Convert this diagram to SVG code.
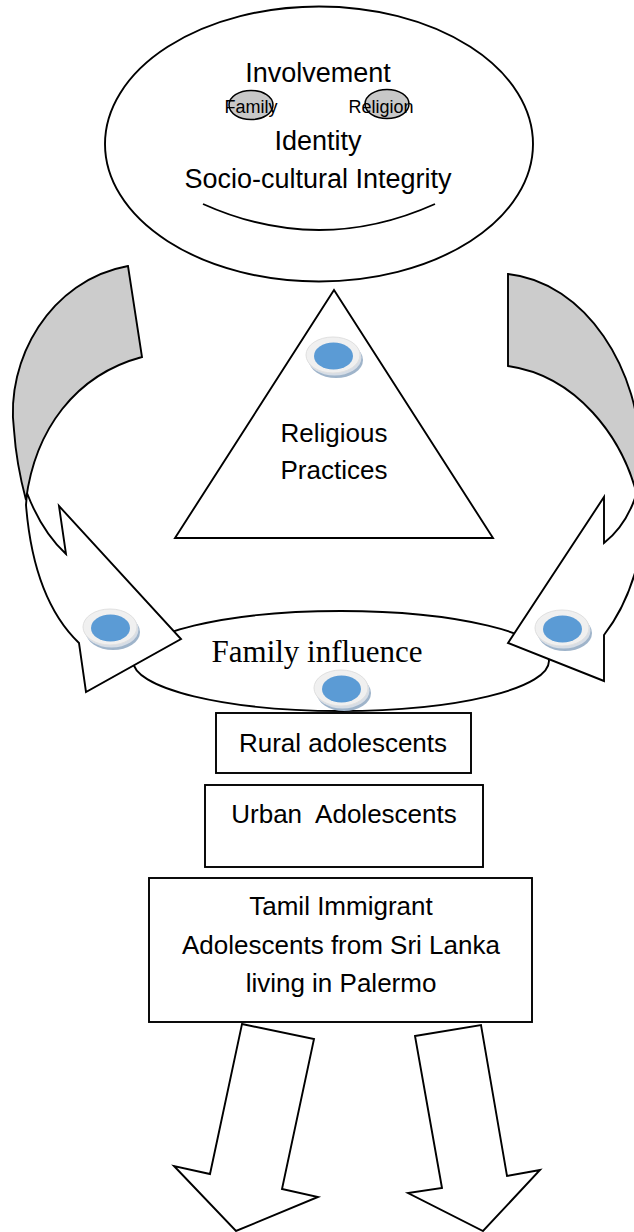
<svg xmlns="http://www.w3.org/2000/svg" xmlns:xlink="http://www.w3.org/1999/xlink" width="634" height="1232" viewBox="0 0 634 1232">
<style>
.ln{fill:none;stroke:#000;stroke-width:1.9}
.sh{fill:#fff;stroke:#000;stroke-width:1.9;stroke-linejoin:miter}
.gr{fill:#cccccc;stroke:#000;stroke-width:1.9}
.sm{fill:#c8c8c8;stroke:#000;stroke-width:1.5}
.t{font-family:"Liberation Sans",Arial,sans-serif;fill:#000;text-anchor:middle;white-space:pre}
.s{font-family:"Liberation Serif","Times New Roman",serif;fill:#000;text-anchor:middle}
</style>
<defs>
<g id="coin">
<ellipse cx="3" cy="5" rx="27" ry="18" fill="#9fb4ca"/>
<ellipse cx="1.5" cy="2.5" rx="27" ry="18" fill="#d6dde6"/>
<ellipse cx="0" cy="0" rx="27" ry="18" fill="#f0f0f0" stroke="#e0e0e0" stroke-width="1"/>
<ellipse cx="0.5" cy="1" rx="19.5" ry="13.5" fill="#5b9bd5"/>
</g>
</defs>

<g id="top-ellipse">
<ellipse cx="319" cy="144" rx="214" ry="137.5" class="sh"/>
<ellipse cx="251" cy="105" rx="22" ry="14.5" class="sm"/>
<ellipse cx="387" cy="104" rx="22" ry="14.5" class="sm"/>
<text x="318" y="82" class="t" font-size="27">Involvement</text>
<text x="251" y="113" class="t" font-size="18">Family</text>
<text x="381" y="113" class="t" font-size="18">Religion</text>
<text x="318" y="150" class="t" font-size="27">Identity</text>
<text x="318" y="188" class="t" font-size="27">Socio-cultural Integrity</text>
<path d="M203,204 Q319,256 435,204" class="ln"/>
</g>

<g id="triangle">
<polygon points="334,290 175,538 493,538" class="sh"/>
<text x="334" y="442" class="t" font-size="26">Religious</text>
<text x="334" y="479" class="t" font-size="26">Practices</text>
</g>

<g id="family-influence">
<ellipse cx="341" cy="661" rx="208" ry="50" class="sh"/>
<text x="317" y="662" class="s" font-size="31">Family influence</text>
</g>

<g id="connectors">
<path d="M128,266 C50,280 5,360 14,430 C16,460 22,485 26,500 C35,430 75,375 142,357 Z" class="gr"/>
<path d="M27,493 Q42,532 66,554 L59,506 L181,639 L86,692 L79,643 C55,620 32,580 26,505 Z" class="sh"/>
<path d="M508,274 C585,282 642,370 640,460 C639,475 638,485 637,495 C622,437 577,376 508,366 Z" class="gr"/>
<path d="M637,492 Q627,525 604,543 L604,497 L508,643 L604,681 L604,635 C622,612 640,575 646,515 Z" class="sh"/>
<polygon points="242,1024 314,1039 282,1189 318,1197 236,1231 174,1166 210,1174" class="sh"/>
<polygon points="415,1036 481,1025 507,1176 540,1170 483,1231 408,1193 442,1188" class="sh"/>
</g>

<g id="coins">
<use xlink:href="#coin" href="#coin" transform="translate(333,355)"/>
<use xlink:href="#coin" href="#coin" transform="translate(110,627)"/>
<use xlink:href="#coin" href="#coin" transform="translate(562,628)"/>
</g>

<g id="rural">
<rect x="216" y="713" width="255" height="60" class="sh"/>
<text x="343" y="752" class="t" font-size="26">Rural adolescents</text>
</g>

<g id="coin-family">
<use xlink:href="#coin" href="#coin" transform="translate(341,688)"/>
</g>

<g id="urban">
<rect x="205" y="785" width="278" height="82" class="sh"/>
<text x="344" y="823" class="t" font-size="26" xml:space="preserve">Urban  Adolescents</text>
</g>

<g id="tamil">
<rect x="149" y="878" width="383" height="144" class="sh"/>
<text x="341" y="915" class="t" font-size="26">Tamil Immigrant</text>
<text x="341" y="954" class="t" font-size="26">Adolescents from Sri Lanka</text>
<text x="341" y="992" class="t" font-size="26">living in Palermo</text>
</g>
</svg>
